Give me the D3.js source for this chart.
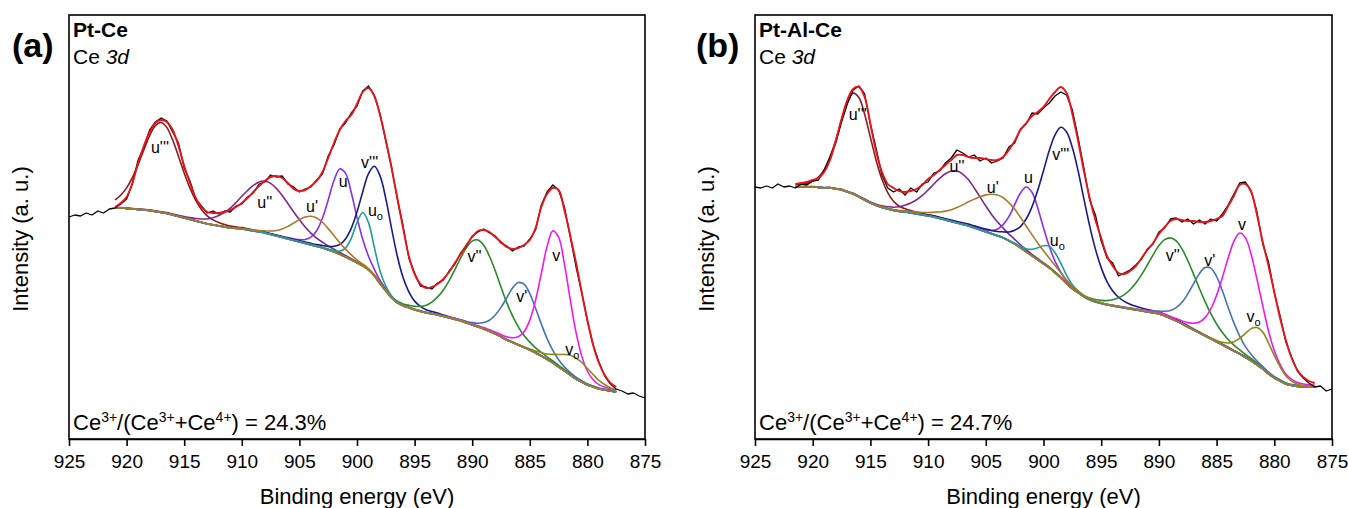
<!DOCTYPE html>
<html>
<head>
<meta charset="utf-8">
<script src="https://cdn.jsdelivr.net/npm/d3@7"></script>
<style>
  body { margin: 0; background: #fff; }
  svg { display: block; }
  text { font-family: "Liberation Sans", Arial, Helvetica, sans-serif; fill: #000; }
</style>
</head>
<body>
<svg id="fig" width="1348" height="508"></svg>
<script>
// ---------- shared ----------
const tickEnergies = [925, 920, 915, 910, 905, 900, 895, 890, 885, 880, 875];
const peakNames = ["u'''", "u''", "u'", "u", "u", "v'''", "v''", "v'", "v", "v"];
const peakSubs  = ["", "", "", "", "o", "", "", "", "", "o"];
const eStep = 0.5;          // eV between samples
const lorentzFraction = 0.2; // GL mixing of the component line shape

// ---------- (a) Pt-Ce ----------
const ptceSample = "Pt-Ce";
const ptceRatio = "24.3%";
const ptceDataStart = 925;
const ptceData = [222,224,223,226,224,228,226,230,231,235,240,255,279,292,309,317,321,318,307,296,
  271,258,240,233,226,228,225,228,227,233,235,242,246,255,257,264,262,263,255,252,
  247,250,252,259,265,283,294,310,316,326,333,348,353,344,325,298,272,240,213,181,
  166,153,152,150,156,159,168,175,186,193,203,207,210,206,203,196,193,188,192,193,
  200,209,234,247,254,249,232,203,173,147,118,94,77,63,55,50,48,45,46,43,41];
const ptceFitStart = 921;
const ptceEnvelope = [232,236,242,256,276,293,307,316,319,317,309,293,273,256,241,232,227,226,226,227,
  229,232,236,241,247,253,258,262,263,261,256,250,248,249,253,258,267,281,296,309,
  318,324,335,347,351,343,324,299,271,241,211,183,165,155,151,152,155,160,167,176,
  185,194,202,208,209,207,202,197,192,190,191,194,199,211,232,245,251,249,229,204,
  177,147,119,94,76,64,56,52];
const ptceBackground = [231,231,230.5,230,229.5,229,228.5,227.5,226.5,225.5,224,222.5,221,219.5,218,216.5,215,214,213,212,
  211,210.5,210,209,208,207,206,204.5,203,201.5,200,198.5,197,195.5,194,192.5,191,189,187,184.5,
  182,179,176,173,169,163,155,148,141,136,133,131,129,127.5,126,125,124,122.5,121,119.5,
  118,116,114,112,110,107.5,105,102,99,96.5,94,91.5,89,86,83,79.5,76,72,68,64,
  60,57,54,52,50,49,48,47];
const ptceCenters = [917.0, 907.9, 903.8, 901.3, 899.4, 898.3, 889.5, 885.7, 882.8, 881.0];
const ptceHeights = [90, 52, 29, 87, 54, 111, 87, 64, 134, 21];
const ptceFwhm    = [4.0, 5.2, 4.0, 2.7, 1.9, 3.2, 4.5, 3.4, 2.9, 3.5];
const ptceLabelE  = [917.1, 908.0, 903.9, 901.2, 898.4, 898.9, 889.8, 885.7, 882.7, 881.3];
const ptceLabelI  = [286, 231, 227, 252, 223, 271, 177, 137, 178, 84];

// ---------- (b) Pt-Al-Ce ----------
const ptalceSample = "Pt-Al-Ce";
const ptalceRatio = "24.7%";
const ptalceDataStart = 925;
const ptalceData = [252,251,253,251,255,252,253,251,255,254,258,259,269,282,296,317,335,349,353,345,
  315,290,264,251,247,250,244,251,247,255,257,266,268,276,281,289,286,282,284,278,
  281,276,278,281,292,296,310,315,326,325,331,336,343,347,344,329,301,271,239,224,
  198,181,176,163,166,169,174,180,190,195,207,211,220,221,217,220,215,219,215,220,
  218,225,234,245,256,257,248,227,195,177,146,123,97,82,68,61,56,52,53,48,50];
const ptalceFitStart = 921.5;
const ptalceEnvelope = [255,256,257,259,261,267,279,298,320,339,350,352,342,315,287,267,255,251,248,247,
  248,250,254,260,264,269,274,279,284,284,282,281,281,280,279,279,282,289,298,309,
  316,323,327,332,340,347,352,346,325,298,268,241,219,201,183,173,166,165,168,173,
  181,189,196,205,212,218,220,219,218,218,217,217,218,220,223,233,243,254,255,247,
  224,197,173,147,121,99,81,69,62,58,56];
const ptalceBackground = [252,252,252,252,251.5,251,251,250,249,247,245,242,239,236,233.5,231.5,230,228.5,227.5,227,
  226,225,224,223,222,220.5,219,217.5,216,214.5,213,211,209,207,205,203,201,198,195,191,
  187,183,179,175,171,166,161,155,150,146,142,139,137,135.5,134,133,132,131,130,129,
  128,127,126,125,123,120.5,118,115,112,109,106,103,100,97,94,91,88,85,81.5,78,
  74,70,65,61,58,55,53.5,52.5,52,52,52];
const ptalceCenters = [916.3, 907.5, 903.9, 901.3, 899.4, 898.2, 888.8, 885.6, 882.8, 881.3];
const ptalceHeights = [102, 52, 41, 66, 22, 153, 81, 71, 122, 38];
const ptalceFwhm    = [3.3, 5.0, 6.0, 2.8, 2.4, 4.3, 5.0, 3.6, 3.7, 3.0];
const ptalceLabelE  = [916.1, 907.5, 904.4, 901.3, 898.8, 898.5, 888.8, 885.6, 882.8, 881.8];
const ptalceLabelI  = [319, 267, 246, 256, 193, 279, 178, 173, 209, 117];

// ---------- styling ----------
const peakColors = ["#8b1c1c", "#7d2a8c", "#a67a2e", "#8c2ee6", "#1f9c9c",
                    "#1a1a8a", "#2a8a2a", "#4672b0", "#ee1aee", "#8a8a14"];
// stacking order of the component curves (last one ends up on top of the baseline bundle)
const drawOrder = [0, 1, 3, 5, 6, 7, 8, 9, 4, 2];
const plotTop = 15, plotBottom = 439;

const panels = [
  { tag: "(a)", sample: ptceSample, ratio: ptceRatio, dataStart: ptceDataStart, data: ptceData,
    fitStart: ptceFitStart, envelope: ptceEnvelope, background: ptceBackground,
    centers: ptceCenters, heights: ptceHeights, fwhm: ptceFwhm, labelE: ptceLabelE, labelI: ptceLabelI,
    left: 69, right: 645, tagX: 12, yTitleX: 28 },
  { tag: "(b)", sample: ptalceSample, ratio: ptalceRatio, dataStart: ptalceDataStart, data: ptalceData,
    fitStart: ptalceFitStart, envelope: ptalceEnvelope, background: ptalceBackground,
    centers: ptalceCenters, heights: ptalceHeights, fwhm: ptalceFwhm, labelE: ptalceLabelE, labelI: ptalceLabelI,
    left: 755, right: 1332, tagX: 696, yTitleX: 714 }
];

// Gaussian–Lorentzian (pseudo-Voigt) line shape
function glPeak(e, c, h, w) {
  const t = (e - c) / w;
  return h * ((1 - lorentzFraction) * Math.exp(-4 * Math.LN2 * t * t) +
              lorentzFraction / (1 + 4 * t * t));
}

const svg = d3.select("#fig");

panels.forEach(p => {
  const x = d3.scaleLinear().domain([925, 875]).range([p.left, p.right]);
  const y = d3.scaleLinear().domain([0, 424]).range([plotBottom, plotTop]);
  const g = svg.append("g");

  const dataE = p.data.map((_, i) => p.dataStart - i * eStep);
  const fitE = p.background.map((_, i) => p.fitStart - i * eStep);

  const smooth = d3.line().x(d => x(d[0])).y(d => y(d[1])).curve(d3.curveCatmullRom.alpha(0.5));
  const raw = d3.line().x(d => x(d[0])).y(d => y(d[1]));

  // fitted components, each sitting on the background
  drawOrder.forEach(j => {
    const pts = fitE.map((e, i) => [e, p.background[i] + glPeak(e, p.centers[j], p.heights[j], p.fwhm[j])]);
    g.append("path").attr("d", smooth(pts)).attr("fill", "none")
      .attr("stroke", peakColors[j]).attr("stroke-width", 1.6);
  });

  // measured spectrum
  g.append("path").attr("d", raw(dataE.map((e, i) => [e, p.data[i]])))
    .attr("fill", "none").attr("stroke", "#000").attr("stroke-width", 1.3)
    .attr("stroke-linejoin", "round");

  // fit envelope
  g.append("path").attr("d", smooth(fitE.map((e, i) => [e, p.envelope[i]])))
    .attr("fill", "none").attr("stroke", "#e8141c").attr("stroke-width", 1.9);

  // component labels
  p.labelE.forEach((e, j) => {
    const t = g.append("text").attr("x", x(e)).attr("y", y(p.labelI[j]))
      .attr("text-anchor", "middle").style("font-size", "16px").text(peakNames[j]);
    if (peakSubs[j]) {
      t.append("tspan").attr("dy", 4).style("font-size", "11px").text(peakSubs[j]);
    }
  });

  // frame
  g.append("rect").attr("x", p.left).attr("y", plotTop)
    .attr("width", p.right - p.left).attr("height", plotBottom - plotTop)
    .attr("fill", "none").attr("stroke", "#000").attr("stroke-width", 1.6);

  // x axis
  const ax = g.append("g").attr("transform", `translate(0,${plotBottom})`)
    .call(d3.axisBottom(x).tickValues(tickEnergies).tickFormat(d3.format("d"))
      .tickSizeInner(7).tickSizeOuter(0).tickPadding(9));
  ax.select(".domain").attr("stroke-width", 1.6);
  ax.selectAll(".tick line").attr("stroke-width", 1.6);
  ax.selectAll(".tick text").style("font-size", "19px")
    .style("font-family", '"Liberation Sans", Arial, sans-serif');

  // axis titles
  g.append("text").attr("x", (p.left + p.right) / 2).attr("y", 504)
    .attr("text-anchor", "middle").style("font-size", "22px").text("Binding energy (eV)");
  g.append("text").attr("transform", `translate(${p.yTitleX},239) rotate(-90)`)
    .attr("text-anchor", "middle").style("font-size", "22px").text("Intensity (a. u.)");

  // panel tag and sample captions
  g.append("text").attr("x", p.tagX).attr("y", 57).style("font-size", "34px")
    .style("font-weight", "bold").text(p.tag);
  g.append("text").attr("x", p.left + 4).attr("y", 37).style("font-size", "21px")
    .style("font-weight", "bold").text(p.sample);
  const ce = g.append("text").attr("x", p.left + 4).attr("y", 64).style("font-size", "21px");
  ce.append("tspan").text("Ce ");
  ce.append("tspan").style("font-style", "italic").text("3d");

  // Ce3+ fraction
  const r = g.append("text").attr("x", p.left + 4).attr("y", 430).style("font-size", "22px");
  const sup = s => r.append("tspan").attr("dy", -8).style("font-size", "14px").text(s);
  const norm = s => r.append("tspan").attr("dy", 8).text(s);
  r.append("tspan").text("Ce");
  sup("3+"); norm("/(Ce");
  sup("3+"); norm("+Ce");
  sup("4+"); norm(") = " + p.ratio);
});
</script>
</body>
</html>
